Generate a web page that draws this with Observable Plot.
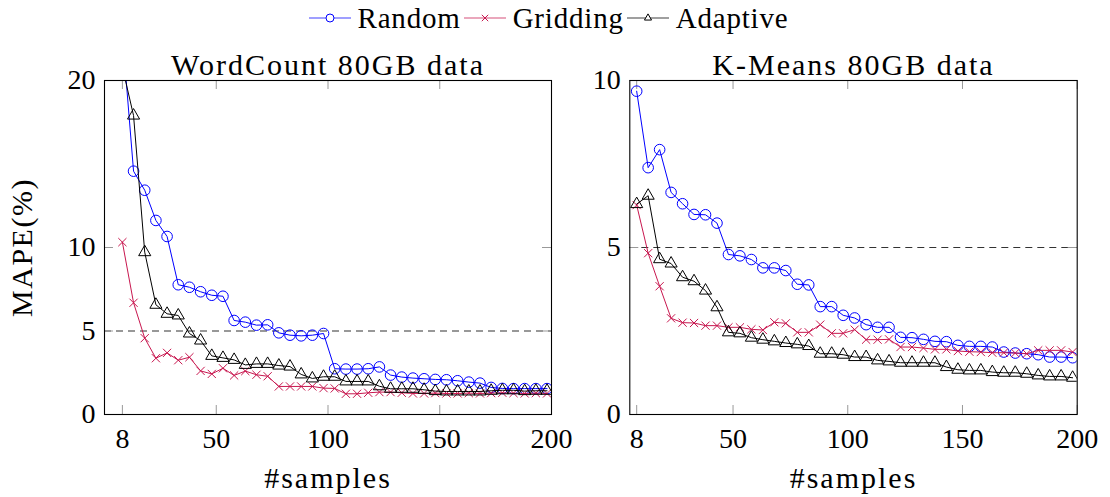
<!DOCTYPE html>
<html><head><meta charset="utf-8">
<script src="https://cdn.jsdelivr.net/npm/d3@7"></script>
<script src="https://cdn.jsdelivr.net/npm/@observablehq/plot@0.6"></script>
<style>
html,body{margin:0;padding:0;background:#fff;}
body{width:1110px;height:497px;position:relative;overflow:hidden;font-family:"Liberation Serif",serif;}
#p1{position:absolute;left:0;top:0;}
#p2{position:absolute;left:560px;top:0;}
svg text{font-family:"Liberation Serif",serif !important;}
#legend{position:absolute;top:0;left:-6px;width:1110px;height:36px;display:flex;justify-content:center;align-items:center;font-family:"Liberation Serif",serif;font-size:29px;letter-spacing:0.8px;}
#legend .item{display:flex;align-items:center;margin-right:2px;}
#legend svg{margin-right:6px;}
</style></head><body>
<div id="p1"></div><div id="p2"></div><div id="legend"></div>
<script>
// ---- data ----
const samples = [8,13,18,23,28,33,38,43,48,53,58,63,68,73,78,83,88,93,98,103,108,113,118,123,128,133,138,143,148,153,158,163,168,173,178,183,188,193,198];
const seriesNames = ["Random", "Gridding", "Adaptive"];
const panelTitles = ["WordCount 80GB data", "K-Means 80GB data"];
const xLabel = "#samples";
const yLabel = "MAPE(%)";
const xTicks = [8, 50, 100, 150, 200];
const yTicksWC = [0, 5, 10, 20];
const yTicksKM = [0, 5, 10];
const threshold = 5;

const wcRandom = [22.8,14.57,13.43,11.62,10.66,7.77,7.62,7.35,7.14,7.08,5.63,5.53,5.35,5.37,4.89,4.75,4.71,4.75,4.85,2.74,2.72,2.72,2.74,2.85,2.36,2.24,2.18,2.14,2.10,2.08,2.02,1.94,1.88,1.62,1.56,1.55,1.55,1.55,1.55];
const wcGridding = [10.32,6.69,4.57,3.37,3.69,3.25,3.43,2.61,2.43,2.77,2.34,2.60,2.38,2.29,1.68,1.68,1.68,1.68,1.58,1.56,1.24,1.24,1.30,1.34,1.34,1.30,1.26,1.26,1.28,1.26,1.26,1.28,1.26,1.28,1.30,1.28,1.26,1.28,1.26];
const wcAdaptive = [20.8,17.9,9.72,6.57,6.03,5.93,4.85,4.43,3.51,3.39,3.27,2.97,3.03,3.03,2.93,2.87,2.40,2.16,2.26,2.26,1.98,1.98,1.98,1.69,1.54,1.54,1.54,1.48,1.40,1.38,1.38,1.38,1.38,1.42,1.45,1.45,1.40,1.42,1.42];

const kmRandom = [9.68,7.39,7.93,6.65,6.31,5.99,5.98,5.73,4.79,4.75,4.64,4.39,4.39,4.31,3.90,3.88,3.23,3.23,2.97,2.89,2.69,2.61,2.61,2.31,2.30,2.25,2.19,2.18,2.07,2.04,2.04,2.02,1.87,1.84,1.82,1.79,1.72,1.72,1.70];
const kmGridding = [6.27,4.83,3.84,2.88,2.75,2.74,2.66,2.66,2.61,2.61,2.55,2.53,2.76,2.73,2.46,2.46,2.69,2.43,2.43,2.54,2.24,2.24,2.25,2.02,2.02,1.99,1.95,1.95,1.90,1.88,1.87,1.85,1.85,1.84,1.82,1.92,1.92,1.92,1.87];
const kmAdaptive = [6.30,6.55,4.65,4.52,4.11,3.99,3.71,3.21,2.46,2.43,2.30,2.24,2.19,2.14,2.10,2.05,1.82,1.82,1.79,1.72,1.72,1.62,1.59,1.55,1.55,1.55,1.55,1.42,1.34,1.32,1.32,1.27,1.25,1.25,1.22,1.17,1.14,1.14,1.10];

// ---- styles ----
const COLORS = {Random: "#0000ff", Gridding: "#c8174f", Adaptive: "#000000"};
const SYMBOLS = {Random: "circle", Gridding: "times", Adaptive: "triangle"};
const RADII = {Random: 5.3, Gridding: 3.8, Adaptive: 4.5};
const FONT = "'Liberation Serif', serif";

function panel({title, xDomain, yDomain, yTicks, series, width, marginLeft, marginRight, showYLabel}) {
  const marginTop = 80, marginBottom = 83, height = 497;
  const fH = height - marginTop - marginBottom;
  const fW = width - marginLeft - marginRight;
  const T = 9;
  const marks = [
    Plot.ruleY([threshold], {stroke: "#333", strokeDasharray: "7,5", strokeWidth: 1.1}),
    Plot.tickX(xTicks, {x: d => d, stroke: "#999", insetTop: fH - T}),
    Plot.tickX(xTicks, {x: d => d, stroke: "#999", insetBottom: fH - T}),
    Plot.tickY(yTicks, {y: d => d, stroke: "#999", insetRight: fW - T}),
    Plot.tickY(yTicks, {y: d => d, stroke: "#999", insetLeft: fW - T})
  ];
  seriesNames.forEach((name, k) => {
    const rows = samples.map((x, i) => ({x, y: series[k][i]}));
    marks.push(Plot.line(rows, {x: "x", y: "y", stroke: COLORS[name], strokeWidth: 1, clip: true}));
    marks.push(Plot.dot(rows, {x: "x", y: "y", stroke: COLORS[name], fill: "none", symbol: SYMBOLS[name], r: RADII[name], strokeWidth: 1, clip: true}));
  });
  marks.push(
    Plot.frame({stroke: "#000", strokeWidth: 1.1}),
    Plot.axisX({ticks: xTicks, tickSize: 0, tickPadding: 14, fontSize: 28, label: null, tickFormat: d => String(d)}),
    Plot.axisY({ticks: yTicks, tickSize: 0, tickPadding: 9, fontSize: 28, label: null, tickFormat: d => String(d)}),
    Plot.text([title], {text: d => d, frameAnchor: "top", lineAnchor: "middle", textAnchor: "middle", dy: -15, fontSize: 30}),
    Plot.text([xLabel], {text: d => d, frameAnchor: "bottom", lineAnchor: "middle", textAnchor: "middle", dy: 64, fontSize: 30})
  );
  if (showYLabel) {
    marks.push(Plot.text([yLabel], {text: d => d, frameAnchor: "left", lineAnchor: "middle", textAnchor: "middle", dx: -(marginLeft - 22), rotate: -90, fontSize: 30}));
  }
  const svg = Plot.plot({
    width, height, marginTop, marginBottom, marginLeft, marginRight,
    style: {fontFamily: FONT, fontSize: "28px", color: "#000", background: "transparent", overflow: "visible"},
    x: {domain: xDomain},
    y: {domain: yDomain},
    marks
  });
  // widen the label texts a little to mimic the wider LaTeX font
  const spacing = {[title]: "2px", [xLabel]: "2px", [yLabel]: "1.5px"};
  d3.select(svg).selectAll("text").each(function() {
    const t = this.textContent;
    if (spacing[t]) this.style.letterSpacing = spacing[t];
  });
  return svg;
}

document.getElementById("p1").append(panel({
  title: panelTitles[0], xDomain: [0, 200], yDomain: [0, 20], yTicks: yTicksWC,
  series: [wcRandom, wcGridding, wcAdaptive], width: 560, marginLeft: 104, marginRight: 9, showYLabel: true
}));
document.getElementById("p2").append(panel({
  title: panelTitles[1], xDomain: [5, 200], yDomain: [0, 10], yTicks: yTicksKM,
  series: [kmRandom, kmGridding, kmAdaptive], width: 550, marginLeft: 69.3, marginRight: 33.3, showYLabel: false
}));

// ---- legend ----
const legend = d3.select("#legend");
seriesNames.forEach(name => {
  const item = legend.append("div").attr("class", "item");
  const svg = item.append("svg").attr("width", 44).attr("height", 20);
  svg.append("line").attr("x1", 1).attr("x2", 43).attr("y1", 10).attr("y2", 10)
    .attr("stroke", COLORS[name]).attr("stroke-width", 1.2).attr("opacity", 0.75);
  const sym = name === "Random" ? d3.symbolCircle : name === "Gridding" ? d3.symbolTimes : d3.symbolTriangle2;
  const r = name === "Random" ? 4 : name === "Gridding" ? 3 : 3.4;
  svg.append("path").attr("transform", "translate(22,10)")
    .attr("d", d3.symbol(sym, Math.PI * r * r)())
    .attr("fill", name === "Gridding" ? "none" : "#fff").attr("stroke", COLORS[name]).attr("stroke-width", 1);
  item.append("span").text(name);
});
</script>
</body></html>
